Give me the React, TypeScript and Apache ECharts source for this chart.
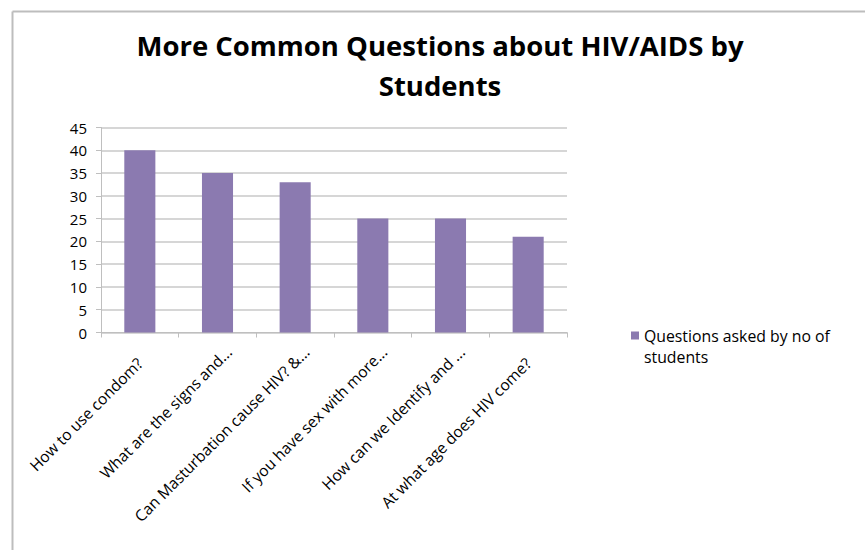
import React, { useEffect, useRef } from "react";
import * as echarts from "echarts";

const titleLines = ["More Common Questions about HIV/AIDS by", "Students"];
const categories = [
  "How to use condom?",
  "What are the signs and...",
  "Can Masturbation cause HIV? &...",
  "If you have sex with more...",
  "How can we Identify and ...",
  "At what age does HIV come?",
];
const seriesName = "Questions asked by no of students";
const legendLines = ["Questions asked by no of", "students"];
const values = [40, 35, 33, 25, 25, 21];
const yMin = 0;
const yMax = 45;
const yStep = 5;

const FONT = "'Open Sans', Lato, sans-serif";

export default function App() {
  const ref = useRef<HTMLDivElement>(null);
  useEffect(() => {
    if (!ref.current) return;
    const chart = echarts.init(ref.current, null, { renderer: "svg" });
    const catData = categories.map((c) => ({
      value: c,
      textStyle: { padding: c.endsWith("...") ? [0, -16, 0, 0] : [0, 0, 0, 0] },
    }));
    chart.setOption({
      animation: false,
      backgroundColor: "#ffffff",
      title: {
        text: titleLines.join("\n"),
        left: 435,
        textAlign: "center",
        top: 20,
        textStyle: {
          fontFamily: FONT,
          fontWeight: "bold",
          fontSize: 27.5,
          lineHeight: 40,
          color: "#000000",
        },
      },
      legend: {
        show: true,
        left: 626,
        top: 320,
        orient: "vertical",
        icon: "path://M0,0h8v8h-8z M0,28.99h0.01v0.01h-0.01z",
        itemWidth: 8,
        itemHeight: 29,
        itemGap: 4,
        formatter: () => legendLines.join("\n"),
        textStyle: {
          fontFamily: FONT,
          fontSize: 15.8,
          lineHeight: 21,
          color: "#000000",
        },
        selectedMode: false,
      },
      graphic: [
        {
          type: "line",
          shape: { x1: 12.5, y1: 11.5, x2: 865, y2: 11.5 },
          style: { stroke: "#bdbdbd", lineWidth: 2 },
          silent: true,
        },
        {
          type: "line",
          shape: { x1: 12.5, y1: 11.5, x2: 12.5, y2: 550 },
          style: { stroke: "#bdbdbd", lineWidth: 2 },
          silent: true,
        },
      ],
      grid: {
        left: 101,
        right: 298,
        top: 127.5,
        bottom: 217.5,
        containLabel: false,
      },
      xAxis: {
        type: "category",
        data: catData,
        boundaryGap: true,
        axisLine: { lineStyle: { color: "#bfbfbf", width: 1 } },
        axisTick: {
          show: true,
          alignWithLabel: false,
          length: 5,
          lineStyle: { color: "#bfbfbf" },
        },
        axisLabel: {
          rotate: 45,
          interval: 0,
          margin: 28,
          fontFamily: FONT,
          fontSize: 15.6,
          color: "#000000",
        },
      },
      yAxis: {
        type: "value",
        min: yMin,
        max: yMax,
        interval: yStep,
        axisLine: { show: true, lineStyle: { color: "#bfbfbf", width: 1 } },
        axisTick: { show: true, length: 5, lineStyle: { color: "#bfbfbf" } },
        splitLine: { show: true, lineStyle: { color: "#c8c8c8", width: 1.5 } },
        axisLabel: {
          margin: 14,
          fontFamily: FONT,
          fontSize: 15,
          color: "#000000",
        },
      },
      series: [
        {
          name: seriesName,
          type: "bar",
          data: values,
          barWidth: "40%",
          itemStyle: { color: "#8b7ab0" },
        },
      ],
    });
    return () => chart.dispose();
  }, []);
  return <div ref={ref} style={{ width: 865, height: 550, position: "absolute", left: 0, top: 0 }} />;
}
